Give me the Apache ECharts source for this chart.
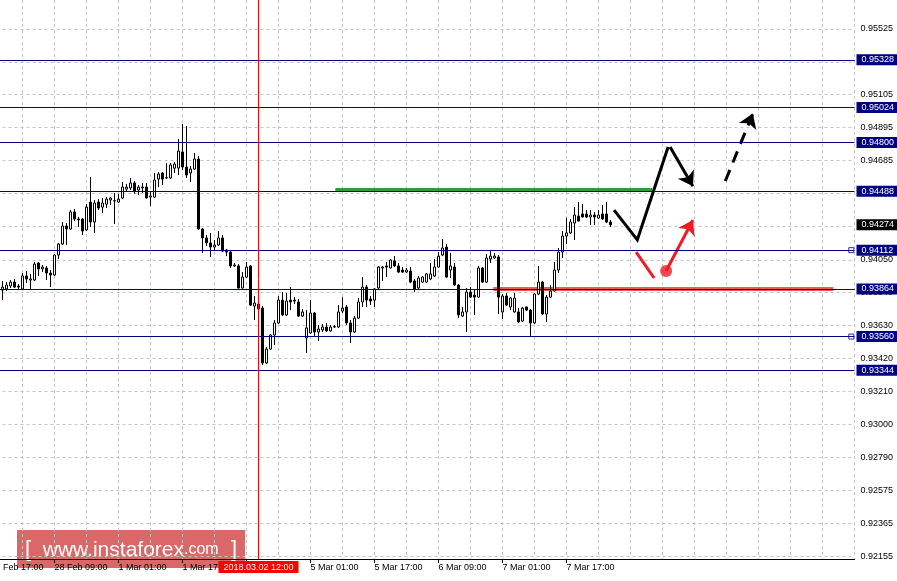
<!DOCTYPE html>
<html><head><meta charset="utf-8">
<script src="https://cdn.jsdelivr.net/npm/echarts@6/dist/echarts.min.js"></script>
<style>html,body{margin:0;padding:0;background:#fff;}#c{width:897px;height:581px;}</style>
</head><body><div id="c"></div>
<script>
// ---- time axis (H1 bars); one tick label every 16 bars, grid line every 8 bars
const xTickLabels = ['27 Feb 17:00','28 Feb 09:00','1 Mar 01:00','1 Mar 17:00','2 Mar 09:00','5 Mar 01:00','5 Mar 17:00','6 Mar 09:00','7 Mar 01:00','7 Mar 17:00'];
const barCount = 217;          // bar slots on the axis (incl. empty right margin)
const firstBar = 3;            // slot of the first candle
// ---- price axis tick labels
const yTickLabels = ['0.95525','0.95315','0.95105','0.94895','0.94685','0.94475','0.94265','0.94050','0.93840','0.93630','0.93420','0.93210','0.93000','0.92790','0.92575','0.92365','0.92155'];
const yMin = 0.92139, yMax = 0.95710;
// ---- candles
const opens = [0.93857,0.93864,0.93883,0.93908,0.93883,0.93864,0.93947,0.93921,0.93921,0.94030,0.93992,0.93998,0.93966,0.93953,0.94081,0.94151,0.94266,0.94247,0.94356,0.94311,0.94311,0.94241,0.94419,0.94292,0.94419,0.94387,0.94406,0.94432,0.94426,0.94419,0.94445,0.94502,0.94509,0.94541,0.94496,0.94509,0.94515,0.94451,0.94451,0.94566,0.94605,0.94573,0.94573,0.94636,0.94636,0.94739,0.94643,0.94605,0.94630,0.94694,0.94247,0.94190,0.94158,0.94132,0.94145,0.94190,0.94113,0.94100,0.94011,0.94011,0.93870,0.93940,0.94011,0.93755,0.93768,0.93742,0.93391,0.93480,0.93570,0.93647,0.93793,0.93698,0.93793,0.93793,0.93781,0.93691,0.93551,0.93583,0.93710,0.93589,0.93602,0.93621,0.93596,0.93621,0.93621,0.93723,0.93749,0.93647,0.93589,0.93678,0.93781,0.93876,0.93800,0.93793,0.93870,0.93998,0.94011,0.93998,0.94043,0.94011,0.93985,0.93972,0.93979,0.93915,0.93870,0.93908,0.93908,0.93928,0.93947,0.94004,0.94081,0.94132,0.93985,0.94004,0.93889,0.93691,0.93717,0.93844,0.93825,0.93812,0.93998,0.93908,0.94055,0.94062,0.94068,0.93717,0.93819,0.93749,0.93717,0.93717,0.93659,0.93749,0.93729,0.93647,0.93832,0.93908,0.93704,0.93812,0.93851,0.93985,0.94100,0.94202,0.94222,0.94285,0.94330,0.94343,0.94343,0.94324,0.94336,0.94317,0.94343,0.94343,0.94292];
const closes = [0.93876,0.93889,0.93908,0.93876,0.93876,0.93947,0.93928,0.93928,0.94023,0.93992,0.94004,0.93966,0.93953,0.94081,0.94151,0.94266,0.94247,0.94356,0.94311,0.94305,0.94234,0.94387,0.94292,0.94413,0.94381,0.94413,0.94438,0.94445,0.94428,0.94438,0.94515,0.94515,0.94541,0.94490,0.94515,0.94515,0.94445,0.94458,0.94560,0.94598,0.94566,0.94575,0.94656,0.94662,0.94745,0.94643,0.94592,0.94630,0.94694,0.94247,0.94190,0.94158,0.94132,0.94145,0.94190,0.94106,0.94100,0.94011,0.94017,0.93870,0.93940,0.94004,0.93761,0.93774,0.93736,0.93391,0.93480,0.93570,0.93647,0.93793,0.93698,0.93787,0.93781,0.93787,0.93691,0.93717,0.93615,0.93710,0.93589,0.93608,0.93621,0.93596,0.93621,0.93624,0.93717,0.93742,0.93647,0.93589,0.93678,0.93781,0.93876,0.93793,0.93787,0.93864,0.94004,0.94004,0.94004,0.94049,0.94011,0.93972,0.93972,0.93985,0.93908,0.93864,0.93934,0.93940,0.93960,0.93960,0.94004,0.94074,0.94126,0.93940,0.94011,0.93889,0.93698,0.93717,0.93844,0.93812,0.93812,0.93998,0.93908,0.94062,0.94074,0.94074,0.93812,0.93819,0.93761,0.93806,0.93806,0.93653,0.93742,0.93729,0.93647,0.93832,0.93908,0.93704,0.93812,0.93851,0.93985,0.94100,0.94202,0.94222,0.94292,0.94336,0.94298,0.94324,0.94324,0.94336,0.94324,0.94336,0.94311,0.94292,0.94274];
const lows = [0.93793,0.93851,0.93870,0.93870,0.93857,0.93857,0.93902,0.93864,0.93915,0.93947,0.93972,0.93921,0.93876,0.93947,0.94055,0.94145,0.94145,0.94241,0.94298,0.94260,0.94209,0.94234,0.94260,0.94221,0.94368,0.94349,0.94381,0.94400,0.94279,0.94413,0.94438,0.94490,0.94496,0.94471,0.94464,0.94477,0.94442,0.94394,0.94448,0.94515,0.94528,0.94566,0.94566,0.94605,0.94592,0.94624,0.94573,0.94547,0.94624,0.94241,0.94094,0.94139,0.94068,0.94106,0.94139,0.94100,0.94074,0.93998,0.94004,0.93867,0.93867,0.93934,0.93755,0.93666,0.93729,0.93378,0.93384,0.93474,0.93506,0.93640,0.93691,0.93691,0.93729,0.93768,0.93685,0.93685,0.93455,0.93579,0.93564,0.93532,0.93589,0.93589,0.93592,0.93615,0.93615,0.93710,0.93634,0.93519,0.93583,0.93672,0.93749,0.93749,0.93761,0.93749,0.93864,0.93915,0.93940,0.93995,0.94004,0.93966,0.93966,0.93966,0.93902,0.93844,0.93864,0.93902,0.93902,0.93921,0.93940,0.94001,0.94074,0.93937,0.93934,0.93883,0.93678,0.93685,0.93589,0.93806,0.93698,0.93806,0.93902,0.93902,0.94030,0.94055,0.93704,0.93672,0.93755,0.93729,0.93713,0.93647,0.93653,0.93723,0.93564,0.93640,0.93825,0.93698,0.93653,0.93809,0.93848,0.93966,0.94062,0.94151,0.94215,0.94177,0.94295,0.94321,0.94317,0.94273,0.94273,0.94311,0.94305,0.94285,0.94260];
const highs = [0.93915,0.93908,0.93921,0.93928,0.93895,0.93966,0.93979,0.93960,0.94036,0.94036,0.94017,0.94011,0.93985,0.94087,0.94158,0.94292,0.94285,0.94368,0.94375,0.94324,0.94317,0.94406,0.94579,0.94432,0.94438,0.94445,0.94451,0.94451,0.94477,0.94470,0.94547,0.94534,0.94573,0.94553,0.94528,0.94541,0.94541,0.94490,0.94605,0.94611,0.94611,0.94668,0.94668,0.94675,0.94822,0.94918,0.94905,0.94650,0.94732,0.94713,0.94253,0.94209,0.94222,0.94177,0.94234,0.94209,0.94119,0.94106,0.94030,0.94023,0.93972,0.94036,0.94017,0.93819,0.93781,0.93755,0.93493,0.93576,0.93666,0.93819,0.93844,0.93838,0.93876,0.93812,0.93800,0.93736,0.93729,0.93793,0.93717,0.93634,0.93640,0.93647,0.93634,0.93634,0.93761,0.93812,0.93761,0.93666,0.93691,0.93806,0.93940,0.93889,0.93819,0.93870,0.94011,0.94011,0.94036,0.94055,0.94074,0.94030,0.94004,0.93998,0.94004,0.93928,0.93947,0.93947,0.93966,0.94030,0.94055,0.94100,0.94183,0.94151,0.94094,0.94030,0.93895,0.93749,0.93870,0.93876,0.93857,0.94011,0.94004,0.94087,0.94113,0.94094,0.94081,0.93832,0.93838,0.93812,0.93838,0.93742,0.93749,0.93752,0.93736,0.93838,0.94011,0.93915,0.93825,0.93889,0.94036,0.94126,0.94234,0.94318,0.94311,0.94387,0.94419,0.94406,0.94368,0.94368,0.94355,0.94368,0.94400,0.94419,0.94305];
// ---- horizontal levels and markers
const levels = [0.95328,0.95024,0.94800,0.94488,0.94112,0.93864,0.93560,0.93344];
const markedLevels = [0.94112,0.93560];
const currentPrice = 0.94274;
const separatorBar = 67;
const separatorLabel = '2018.03.02 12:00';
// ---- drawn annotations, as [bar position, price]
const greenLine = [[86.2,0.94500],[165.4,0.94500]];
const redLine = [[125.7,0.93864],[210.7,0.93864]];
const blackPath = [[155.9,0.94368],[161.7,0.94177],[169.4,0.94771]];
const blackArrow = [[169.9,0.94771],[175.6,0.94520]];
const dashedArrow = [[183.7,0.94554],[190.6,0.94985]];
const redStroke = [[161.4,0.94100],[165.9,0.93934]];
const redDot = [168.9,0.93979];
const redArrow = [[168.9,0.93979],[175.6,0.94305]];
const markerX = 215.2;
const watermark = 'www.instaforex';

const FONT = "'Liberation Sans', Arial, sans-serif";
const categories = Array.from({length: barCount}, (_, i) => String(i));
const candleData = opens.map((o, i) => [firstBar + i, o, closes[i], lows[i], highs[i]]);
const yTickValues = yTickLabels.map(Number);
const isLabelBar = i => i % 16 === 0 && i / 16 < xTickLabels.length;
const gridLine = {color: '#c4c4c4', width: 1, type: [3, 3]};
const boxLabel = (bg) => ({show: true, position: 'end', distance: 2, color: '#fff', backgroundColor: bg,
  padding: [1, 5, 0, 5], fontSize: 9, lineHeight: 10, fontFamily: FONT});

const chart = echarts.init(document.getElementById('c'), null, {renderer: 'canvas'});
chart.setOption({
  animation: false,
  backgroundColor: '#ffffff',
  grid: {left: -9.5, top: 0, width: 864, height: 559, containLabel: false, outerBoundsMode: 'none'},
  xAxis: [{
    type: 'category', data: categories, boundaryGap: false,
    axisLine: {show: true, lineStyle: {color: '#000', width: 1}},
    axisTick: {show: true, interval: isLabelBar, length: 4, lineStyle: {color: '#000'}},
    axisLabel: {show: true, interval: isLabelBar, formatter: (v, i) => xTickLabels[Math.round(Number(v) / 16)] || '',
      align: 'left', margin: 4, fontSize: 9, color: '#000', fontFamily: FONT, hideOverlap: false},
    splitLine: {show: true, interval: i => i % 8 === 0, lineStyle: gridLine}
  }, {
    type: 'value', min: 0, max: barCount - 1, show: false, splitLine: {show: false}
  }],
  yAxis: {
    type: 'value', position: 'right', min: yMin, max: yMax, scale: true,
    axisLine: {show: true, lineStyle: {color: '#000', width: 1}},
    axisTick: {show: true, customValues: yTickValues, length: 3, lineStyle: {color: '#000'}},
    axisLabel: {show: true, customValues: yTickValues, formatter: v => v.toFixed(5), margin: 6,
      fontSize: 9, color: '#000', fontFamily: FONT},
    splitLine: {show: true, lineStyle: gridLine}
  },
  series: [{
    type: 'candlestick', xAxisIndex: 0, yAxisIndex: 0,
    data: candleData, encode: {x: 0, y: [1, 2, 3, 4]},
    barWidth: 2,
    itemStyle: {color: '#ffffff', color0: '#000000', borderColor: '#000', borderColor0: '#000', borderColorDoji: '#000', borderWidth: 1},
    markLine: {
      silent: true, symbol: 'none', animation: false, precision: 5,
      data: levels.map(v => ({yAxis: v, lineStyle: {color: '#000080', width: 1, type: 'solid'},
          label: Object.assign(boxLabel('#000080'), {formatter: v.toFixed(5)})}))
        .concat([{yAxis: currentPrice, lineStyle: {color: 'rgba(0,0,0,0)', width: 0},
          label: Object.assign(boxLabel('#000000'), {formatter: currentPrice.toFixed(5)})}])
    }
  }, {
    type: 'lines', coordinateSystem: 'cartesian2d', xAxisIndex: 1, yAxisIndex: 0, silent: true,
    data: [{coords: greenLine}], lineStyle: {color: '#2f9e3a', width: 4, opacity: 1}
  }, {
    type: 'lines', coordinateSystem: 'cartesian2d', xAxisIndex: 1, yAxisIndex: 0, silent: true,
    data: [{coords: redLine}], lineStyle: {color: 'rgba(236,45,45,0.8)', width: 4, opacity: 1}
  }, {
    type: 'lines', coordinateSystem: 'cartesian2d', xAxisIndex: 1, yAxisIndex: 0, silent: true, polyline: true,
    data: [{coords: blackPath}], lineStyle: {color: '#000', width: 3, opacity: 1}
  }, {
    type: 'lines', coordinateSystem: 'cartesian2d', xAxisIndex: 1, yAxisIndex: 0, silent: true,
    symbol: ['none', 'arrow'], symbolSize: 14,
    data: [{coords: blackArrow}], lineStyle: {color: '#000', width: 3, opacity: 1}
  }, {
    type: 'lines', coordinateSystem: 'cartesian2d', xAxisIndex: 1, yAxisIndex: 0, silent: true,
    symbol: ['none', 'arrow'], symbolSize: 14,
    data: [{coords: dashedArrow}], lineStyle: {color: '#000', width: 3, type: [12, 8], opacity: 1}
  }, {
    type: 'lines', coordinateSystem: 'cartesian2d', xAxisIndex: 1, yAxisIndex: 0, silent: true,
    data: [{coords: redStroke}], lineStyle: {color: '#ee1c25', width: 3, opacity: 1}
  }, {
    type: 'lines', coordinateSystem: 'cartesian2d', xAxisIndex: 1, yAxisIndex: 0, silent: true,
    symbol: ['none', 'arrow'], symbolSize: 14,
    data: [{coords: redArrow}], lineStyle: {color: '#ee1c25', width: 3, opacity: 1}
  }, {
    type: 'scatter', xAxisIndex: 1, yAxisIndex: 0, silent: true,
    data: [redDot], symbol: 'circle', symbolSize: 12, itemStyle: {color: '#ee1c25'}
  }, {
    type: 'scatter', xAxisIndex: 1, yAxisIndex: 0, silent: true,
    data: markedLevels.map(v => [markerX, v]), symbol: 'rect', symbolSize: 5,
    itemStyle: {color: '#ffffff', borderColor: '#000080', borderWidth: 1},
    markLine: {
      silent: true, symbol: 'none', animation: false, precision: 5,
      data: [{xAxis: separatorBar, lineStyle: {color: '#ff0000', width: 1, type: 'solid'},
        label: {show: true, position: 'start', distance: 2, formatter: separatorLabel, color: '#fff',
          backgroundColor: '#ff0000', padding: [2, 5, 1, 5], fontSize: 9, fontFamily: FONT}}]
    }
  }],
  graphic: [{
    type: 'group', left: 17, top: 530, z: 100, silent: true,
    children: [{
      type: 'rect', shape: {x: 0, y: 0, width: 228, height: 38},
      style: {fill: 'rgba(208,62,62,0.78)'}
    }, {
      type: 'text', x: 114, y: 20,
      style: {
        text: '{b|[}{w|  ' + watermark + '}{c|.com}{b|  ]}',
        align: 'center', verticalAlign: 'middle',
        rich: {
          b: {fontSize: 22, fill: '#fff', fontFamily: FONT},
          w: {fontSize: 21, fill: '#fff', fontFamily: FONT},
          c: {fontSize: 16, fill: '#fff', fontFamily: FONT}
        }
      }
    }]
  }]
});
</script>
</body></html>
